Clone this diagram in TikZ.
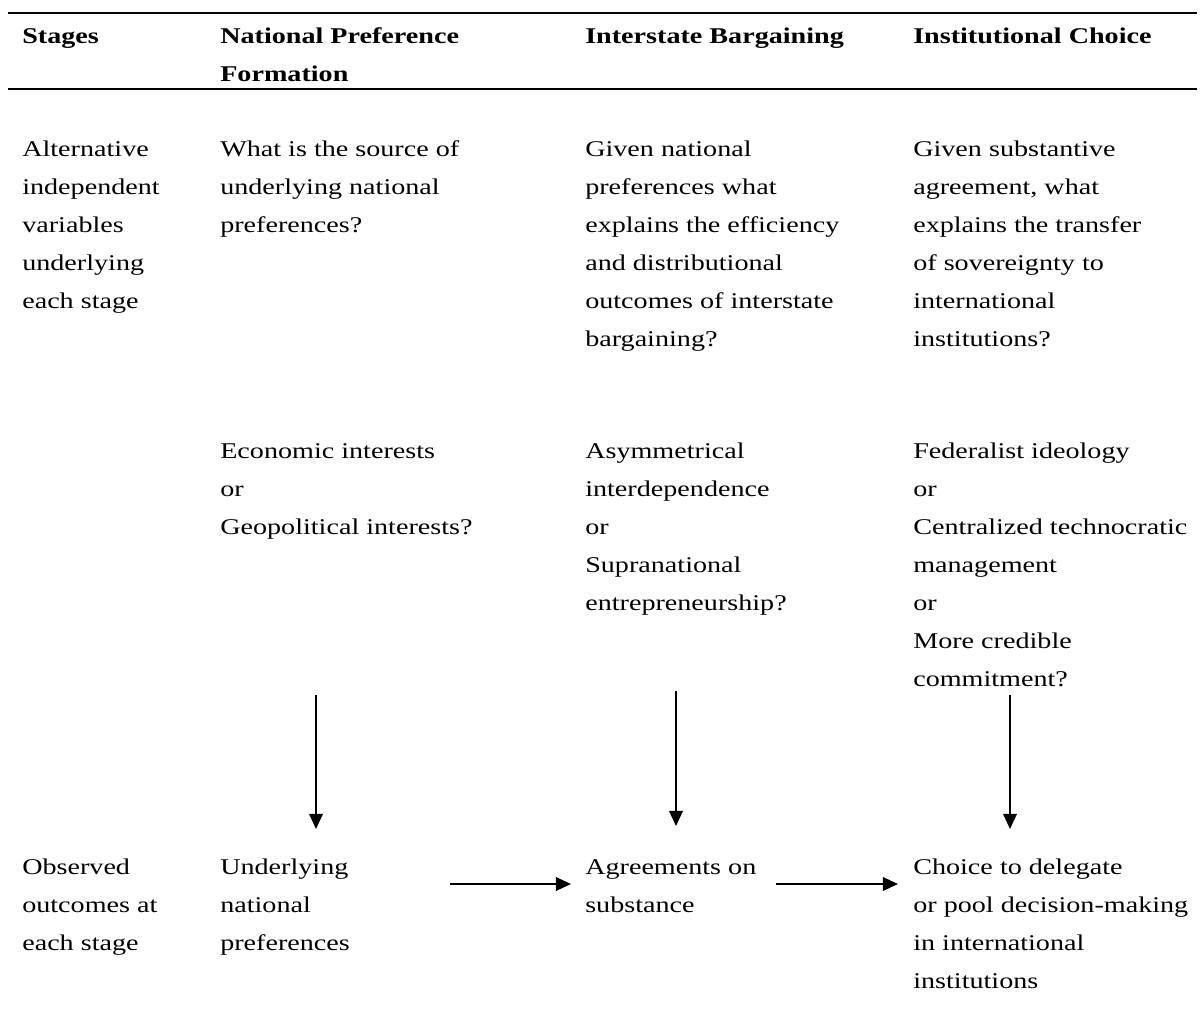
\documentclass[tikz,border=0pt]{standalone}
\usepackage{fontspec}
\setmainfont{Liberation Serif}[FakeStretch=1.25]
\usetikzlibrary{arrows.meta, positioning}
\tikzstyle{cell} = [
  anchor=base west, inner sep=0pt,
  align=left, font=\fontsize{16}{27}\selectfont
]
\tikzstyle{arrow} = [line width=1.4pt, -{Triangle[length=3.8mm, width=3.4mm]}]

\begin{document}
\begin{tikzpicture}[
    x=0.025cm, y=-0.025cm,
    head/.style={cell, font=\fontsize{16}{27}\selectfont\bfseries},
    rule/.style={line width=1.6pt}
]
    \useasboundingbox (0,0) rectangle (1202,1027);

    % Header (nodes sit on the baseline of their last line)
    \node[head] (stages) at (22,43) {Stages};
    \node[head] (npf) at (220,81) {National Preference\\Formation};
    \node[head] (ib) at (585,43) {Interstate Bargaining};
    \node[head] (ic) at (913,43) {Institutional Choice};
    \draw[rule] (8,13) -- (1197,13);
    \draw[rule] (8,89) -- (1197,89);

    % Questions
    \node[cell] (altvar) at (22,308) {Alternative\\independent\\variables\\underlying\\each stage};
    \node[cell] (npfq) at (220,232) {What is the source of\\underlying national\\preferences?};
    \node[cell] (ibq) at (585,346) {Given national\\preferences what\\explains the efficiency\\and distributional\\outcomes of interstate\\bargaining?};
    \node[cell] (icq) at (913,346) {Given substantive\\agreement, what\\explains the transfer\\of sovereignty to\\international\\institutions?};

    % Alternative variables
    \node[cell] (npfvar) at (220,534) {Economic interests\\or\\Geopolitical interests?};
    \node[cell] (ibvar) at (585,610) {Asymmetrical\\interdependence\\or\\Supranational\\entrepreneurship?};
    \node[cell] (icvar) at (913,686) {Federalist ideology\\or\\Centralized technocratic\\management\\or\\More credible\\commitment?};

    % Outcomes
    \node[cell] (obs) at (22,950) {Observed\\outcomes at\\each stage};
    \node[cell] (npfout) at (220,950) {Underlying\\national\\preferences};
    \node[cell] (ibout) at (585,912) {Agreements on\\substance};
    \node[cell] (icout) at (913,988) {Choice to delegate\\or pool decision-making\\in international\\institutions};

    % Arrow ends
    \coordinate (v1a) at (316,695);
    \coordinate (v1b) at (316,829);
    \coordinate (v2a) at (676,691);
    \coordinate (v2b) at (676,826);
    \coordinate (v3a) at (1010,695);
    \coordinate (v3b) at (1010,829);
    \coordinate (h1a) at (450,884);
    \coordinate (h1b) at (571,884);
    \coordinate (h2a) at (776,884);
    \coordinate (h2b) at (898,884);

    % Arrows
    \draw[arrow] (v1a) -- (v1b);
    \draw[arrow] (v2a) -- (v2b);
    \draw[arrow] (v3a) -- (v3b);
    \draw[arrow] (h1a) -- (h1b);
    \draw[arrow] (h2a) -- (h2b);

\end{tikzpicture}
\end{document}
